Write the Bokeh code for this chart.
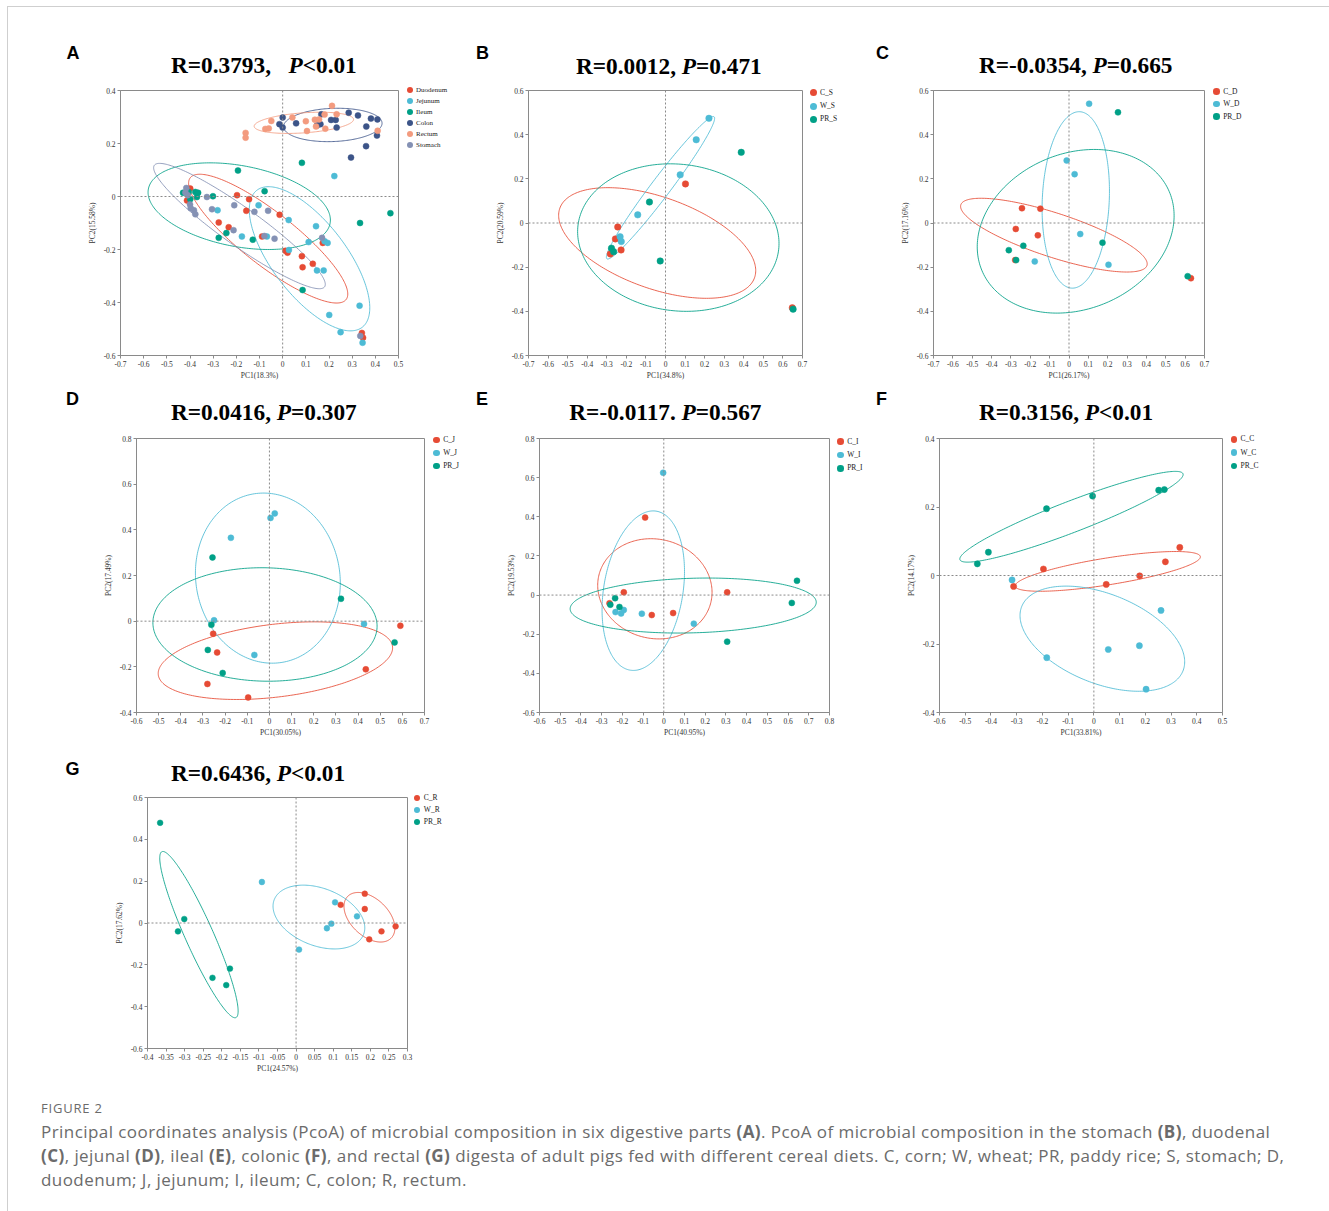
import numpy as np
from bokeh.plotting import figure
from bokeh.models import Span, FixedTicker, Div, Spacer
from bokeh.layouts import column, row
from bokeh.embed import file_html
from bokeh.resources import INLINE

# ---------------- colours ----------------
RED = "#E64B35"; BLUE = "#4DBBD5"; GREEN = "#00A087"
NAVY = "#3C5488"; SALMON = "#F39B7F"; LAV = "#8491B4"

# ---------------- Panel A: six digestive parts ----------------
A_GROUPS = ["Duodenum", "Jejunum", "Ileum", "Colon", "Rectum", "Stomach"]
A_DUO_X = [-0.399, -0.413, -0.197, -0.145, -0.157, -0.013, -0.276, -0.233, -0.089, 0.012, 0.021, 0.083, 0.130, 0.086, 0.173, 0.342, 0.347]
A_DUO_Y = [0.030, -0.015, 0.005, -0.010, -0.054, -0.069, -0.098, -0.116, -0.151, -0.205, -0.212, -0.225, -0.254, -0.267, -0.175, -0.515, -0.533]
A_JEJ_X = [-0.281, -0.104, 0.026, 0.144, -0.176, -0.068, 0.027, 0.112, 0.181, 0.194, 0.148, 0.177, 0.332, 0.201, 0.250, 0.345, 0.223]
A_JEJ_Y = [-0.052, -0.033, -0.089, -0.112, -0.151, -0.151, -0.202, -0.172, -0.169, -0.175, -0.279, -0.279, -0.412, -0.447, -0.512, -0.552, 0.077]
A_ILE_X = [-0.430, -0.406, -0.377, -0.365, -0.370, -0.399, -0.301, -0.078, -0.193, -0.276, -0.243, -0.129, 0.086, 0.334, 0.465, 0.083]
A_ILE_Y = [0.014, 0.017, 0.017, 0.014, -0.002, -0.010, 0.001, 0.020, 0.098, -0.156, -0.138, -0.163, -0.353, -0.100, -0.063, 0.127]
A_COL_X = [0.000, -0.014, 0.000, 0.058, 0.148, 0.163, 0.167, 0.209, 0.229, 0.233, 0.285, 0.325, 0.381, 0.409, 0.361, 0.407, 0.360, 0.295]
A_COL_Y = [0.298, 0.273, 0.260, 0.276, 0.268, 0.273, 0.310, 0.289, 0.289, 0.260, 0.316, 0.306, 0.294, 0.291, 0.264, 0.230, 0.190, 0.147]
A_REC_X = [-0.160, -0.160, -0.075, -0.060, -0.049, 0.042, 0.100, 0.105, 0.139, 0.157, 0.144, 0.184, 0.181, 0.213, 0.233, 0.410]
A_REC_Y = [0.240, 0.222, 0.255, 0.257, 0.285, 0.298, 0.284, 0.247, 0.290, 0.291, 0.264, 0.256, 0.309, 0.342, 0.310, 0.248]
A_STO_X = [-0.416, -0.420, -0.410, -0.400, -0.397, -0.383, -0.377, -0.327, -0.305, -0.209, -0.122, -0.063, -0.212, -0.079, -0.035, 0.170, 0.335]
A_STO_Y = [0.032, 0.015, 0.005, -0.030, -0.044, -0.052, -0.067, -0.002, -0.048, -0.033, -0.058, -0.054, -0.127, -0.149, -0.159, -0.156, -0.526]
# ellipses: (x_min, x_max, y_min, y_max, correlation)
A_ELL = [(-0.406, 0.281, -0.402, 0.084, -0.86),
         (-0.144, 0.376, -0.507, 0.037, -0.68),
         (-0.581, 0.206, -0.200, 0.127, -0.32),
         (0.004, 0.429, 0.207, 0.333, 0.10),
         (-0.123, 0.306, 0.238, 0.318, 0.32),
         (-0.557, 0.184, -0.348, 0.125, -0.93)]

# ---------------- Panel B: stomach ----------------
B_GROUPS = ["C_S", "W_S", "PR_S"]
B_C_X = [-0.244, -0.256, -0.282, -0.227, 0.102, 0.648]
B_C_Y = [-0.018, -0.072, -0.140, -0.122, 0.177, -0.384]
B_W_X = [0.222, 0.157, 0.075, -0.142, -0.232, -0.226]
B_W_Y = [0.474, 0.377, 0.218, 0.037, -0.062, -0.084]
B_PR_X = [0.387, -0.082, -0.027, -0.276, -0.265, 0.652]
B_PR_Y = [0.320, 0.095, -0.172, -0.114, -0.130, -0.390]
B_ELL = [(-0.546, 0.461, -0.341, 0.160, -0.50),
         (-0.302, 0.251, -0.163, 0.482, 0.975),
         (-0.449, 0.580, -0.400, 0.268, -0.08)]

# ---------------- Panel C: duodenum ----------------
C_GROUPS = ["C_D", "W_D", "PR_D"]
C_C_X = [-0.243, -0.148, -0.275, -0.161, -0.278, 0.630]
C_C_Y = [0.067, 0.065, -0.027, -0.056, -0.168, -0.250]
C_W_X = [0.104, -0.012, 0.029, 0.058, 0.204, -0.177]
C_W_Y = [0.540, 0.283, 0.221, -0.050, -0.189, -0.174]
C_PR_X = [0.253, 0.173, -0.236, -0.311, -0.273, 0.613]
C_PR_Y = [0.501, -0.089, -0.103, -0.123, -0.168, -0.241]
C_ELL = [(-0.560, 0.404, -0.222, 0.112, -0.78),
         (-0.139, 0.209, -0.295, 0.504, 0.10),
         (-0.474, 0.543, -0.408, 0.333, 0.19)]

# ---------------- Panel D: jejunum ----------------
D_GROUPS = ["C_J", "W_J", "PR_J"]
D_C_X = [-0.254, -0.236, -0.280, -0.096, 0.435, 0.591]
D_C_Y = [-0.055, -0.137, -0.275, -0.334, -0.211, -0.020]
D_W_X = [0.024, 0.005, -0.174, -0.250, -0.068, 0.427]
D_W_Y = [0.472, 0.452, 0.365, 0.004, -0.148, -0.012]
D_PR_X = [-0.257, 0.323, -0.262, -0.278, -0.211, 0.565]
D_PR_Y = [0.279, 0.098, -0.016, -0.126, -0.227, -0.093]
D_ELL = [(-0.502, 0.556, -0.343, -0.003, 0.33),
         (-0.334, 0.320, -0.184, 0.561, -0.06),
         (-0.526, 0.486, -0.263, 0.234, -0.03)]

# ---------------- Panel E: ileum ----------------
E_GROUPS = ["C_I", "W_I", "PR_I"]
E_C_X = [-0.090, -0.193, -0.262, -0.058, 0.045, 0.306]
E_C_Y = [0.396, 0.014, -0.042, -0.102, -0.092, 0.014]
E_W_X = [-0.003, -0.106, 0.145, -0.233, -0.193, -0.206]
E_W_Y = [0.625, -0.095, -0.146, -0.087, -0.076, -0.094]
E_PR_X = [0.643, 0.618, 0.306, -0.235, -0.258, -0.214]
E_PR_Y = [0.073, -0.040, -0.238, -0.016, -0.049, -0.061]
E_ELL = [(-0.319, 0.233, -0.224, 0.288, -0.07),
         (-0.298, 0.100, -0.385, 0.430, 0.24),
         (-0.452, 0.736, -0.194, 0.087, 0.12)]

# ---------------- Panel F: colon ----------------
F_GROUPS = ["C_C", "W_C", "PR_C"]
F_C_X = [0.334, 0.278, 0.178, 0.048, -0.196, -0.312]
F_C_Y = [0.082, 0.040, -0.001, -0.026, 0.019, -0.032]
F_W_X = [-0.318, 0.261, 0.177, 0.056, -0.183, 0.203]
F_W_Y = [-0.013, -0.102, -0.205, -0.216, -0.240, -0.332]
F_PR_X = [-0.453, -0.410, -0.184, -0.005, 0.252, 0.274]
F_PR_Y = [0.034, 0.068, 0.195, 0.232, 0.249, 0.251]
F_ELL = [(-0.306, 0.414, -0.046, 0.070, 0.73),
         (-0.287, 0.353, -0.338, -0.031, -0.44),
         (-0.521, 0.347, 0.039, 0.304, 0.93)]

# ---------------- Panel G: rectum ----------------
G_GROUPS = ["C_R", "W_R", "PR_R"]
G_C_X = [0.185, 0.120, 0.185, 0.230, 0.268, 0.197]
G_C_Y = [0.140, 0.087, 0.067, -0.040, -0.016, -0.078]
G_W_X = [-0.092, 0.105, 0.164, 0.095, 0.083, 0.008]
G_W_Y = [0.196, 0.099, 0.032, -0.003, -0.025, -0.127]
G_PR_X = [-0.366, -0.301, -0.318, -0.225, -0.188, -0.178]
G_PR_Y = [0.479, 0.019, -0.040, -0.262, -0.297, -0.218]
G_ELL = [(0.129, 0.266, -0.091, 0.146, -0.44),
         (-0.062, 0.185, -0.124, 0.181, -0.34),
         (-0.367, -0.156, -0.453, 0.342, -0.92)]

# ---------------- ticks ----------------
XT_A = [-0.7, -0.6, -0.5, -0.4, -0.3, -0.2, -0.1, 0, 0.1, 0.2, 0.3, 0.4, 0.5]
YT_A = [-0.6, -0.4, -0.2, 0, 0.2, 0.4]
XT_BC = [-0.7, -0.6, -0.5, -0.4, -0.3, -0.2, -0.1, 0, 0.1, 0.2, 0.3, 0.4, 0.5, 0.6, 0.7]
YT_BC = [-0.6, -0.4, -0.2, 0, 0.2, 0.4, 0.6]
XT_D = [-0.6, -0.5, -0.4, -0.3, -0.2, -0.1, 0, 0.1, 0.2, 0.3, 0.4, 0.5, 0.6, 0.7]
YT_D = [-0.4, -0.2, 0, 0.2, 0.4, 0.6, 0.8]
XT_E = [-0.6, -0.5, -0.4, -0.3, -0.2, -0.1, 0, 0.1, 0.2, 0.3, 0.4, 0.5, 0.6, 0.7, 0.8]
YT_E = [-0.6, -0.4, -0.2, 0, 0.2, 0.4, 0.6, 0.8]
XT_F = [-0.6, -0.5, -0.4, -0.3, -0.2, -0.1, 0, 0.1, 0.2, 0.3, 0.4, 0.5]
YT_F = [-0.4, -0.2, 0, 0.2, 0.4]
XT_G = [-0.4, -0.35, -0.3, -0.25, -0.2, -0.15, -0.1, -0.05, 0, 0.05, 0.1, 0.15, 0.2, 0.25, 0.3]
YT_G = [-0.6, -0.4, -0.2, 0, 0.2, 0.4, 0.6]

TITLES = ["R=0.3793,   P<0.01", "R=0.0012, P=0.471", "R=-0.0354, P=0.665",
          "R=0.0416, P=0.307", "R=-0.0117. P=0.567", "R=0.3156, P<0.01", "R=0.6436, P<0.01"]
XLABELS = ["PC1(18.3%)", "PC1(34.8%)", "PC1(26.17%)", "PC1(30.05%)", "PC1(40.95%)", "PC1(33.81%)", "PC1(24.57%)"]
YLABELS = ["PC2(15.58%)", "PC2(20.59%)", "PC2(17.16%)", "PC2(17.49%)", "PC2(19.53%)", "PC2(14.17%)", "PC2(17.62%)"]
LETTERS = ["A", "B", "C", "D", "E", "F", "G"]

CAPTION_HEAD = "FIGURE 2"
CAPTION_LINES = [
    "Principal coordinates analysis (PcoA) of microbial composition in six digestive parts <b>(A)</b>. PcoA of microbial composition in the stomach <b>(B)</b>, duodenal",
    "<b>(C)</b>, jejunal <b>(D)</b>, ileal <b>(E)</b>, colonic <b>(F)</b>, and rectal <b>(G)</b> digesta of adult pigs fed with different cereal diets. C, corn; W, wheat; PR, paddy rice; S, stomach; D,",
    "duodenum; J, jejunum; I, ileum; C, colon; R, rectum.",
]

# ---------------- layout / styling ----------------
SERIF = "Liberation Serif"
GRAY = "#8a8a8a"
TITLE_FS = 23.3
TITLE_ASC = 0.8375 * TITLE_FS
LETTER_FS = 18
LETTER_ASC = 0.8465 * LETTER_FS
X0 = 8          # left of content area (after page border)
MBR = 7         # figure border right of frame

# row: header top, header height, row bottom, min border top, min border bottom
ROWS = {1: (7, 73, 387, 10, 32), 2: (387, 41, 747, 10, 35), 3: (747, 41, 1087, 9, 39)}

# geometry: canvas left, frame left, frame right, next canvas left (absolute px)
PANELS = [
    dict(groups=A_GROUPS, xs=[A_DUO_X, A_JEJ_X, A_ILE_X, A_COL_X, A_REC_X, A_STO_X],
         ys=[A_DUO_Y, A_JEJ_Y, A_ILE_Y, A_COL_Y, A_REC_Y, A_STO_Y], ell=A_ELL,
         colors=[RED, BLUE, GREEN, NAVY, SALMON, LAV], xr=(-0.7, 0.5), yr=(-0.6, 0.4), xt=XT_A, yt=YT_A,
         row=1, geo=(8, 120, 398, 465), title=(171, 73.3), letter=(66.5, 59.3),
         leg=(410, 90, 11, 6.0, 6.0, 7.0), size=6.5),
    dict(groups=B_GROUPS, xs=[B_C_X, B_W_X, B_PR_X], ys=[B_C_Y, B_W_Y, B_PR_Y], ell=B_ELL,
         colors=[RED, BLUE, GREEN], xr=(-0.7, 0.7), yr=(-0.6, 0.6), xt=XT_BC, yt=YT_BC,
         row=1, geo=(465, 528, 802, 860), title=(576, 74), letter=(476, 59.3),
         leg=(813.3, 92.7, 13.3, 7.0, 6.7, 7.5), size=7.0),
    dict(groups=C_GROUPS, xs=[C_C_X, C_W_X, C_PR_X], ys=[C_C_Y, C_W_Y, C_PR_Y], ell=C_ELL,
         colors=[RED, BLUE, GREEN], xr=(-0.7, 0.7), yr=(-0.6, 0.6), xt=XT_BC, yt=YT_BC,
         row=1, geo=(860, 933, 1204, 1329), title=(979, 73.3), letter=(876, 59.3),
         leg=(1216.7, 91.7, 12.5, 6.6, 6.5, 7.5), size=6.5),
    dict(groups=D_GROUPS, xs=[D_C_X, D_W_X, D_PR_X], ys=[D_C_Y, D_W_Y, D_PR_Y], ell=D_ELL,
         colors=[RED, BLUE, GREEN], xr=(-0.6, 0.7), yr=(-0.4, 0.8), xt=XT_D, yt=YT_D,
         row=2, geo=(8, 136, 424, 465), title=(171, 420.7), letter=(66, 405),
         leg=(436.7, 440, 13, 6.6, 6.5, 7.5), size=6.5),
    dict(groups=E_GROUPS, xs=[E_C_X, E_W_X, E_PR_X], ys=[E_C_Y, E_W_Y, E_PR_Y], ell=E_ELL,
         colors=[RED, BLUE, GREEN], xr=(-0.6, 0.8), yr=(-0.6, 0.8), xt=XT_E, yt=YT_E,
         row=2, geo=(465, 539, 829, 870), title=(569.3, 420.7), letter=(476, 405),
         leg=(840.7, 441.7, 13.3, 6.6, 6.5, 7.5), size=6.5),
    dict(groups=F_GROUPS, xs=[F_C_X, F_W_X, F_PR_X], ys=[F_C_Y, F_W_Y, F_PR_Y], ell=F_ELL,
         colors=[RED, BLUE, GREEN], xr=(-0.6, 0.5), yr=(-0.4, 0.4), xt=XT_F, yt=YT_F,
         row=2, geo=(870, 939, 1222, 1329), title=(979, 420.7), letter=(876, 405),
         leg=(1234, 439.3, 13.3, 6.6, 6.5, 7.5), size=6.7),
    dict(groups=G_GROUPS, xs=[G_C_X, G_W_X, G_PR_X], ys=[G_C_Y, G_W_Y, G_PR_Y], ell=G_ELL,
         colors=[RED, BLUE, GREEN], xr=(-0.4, 0.3), yr=(-0.6, 0.6), xt=XT_G, yt=YT_G,
         row=3, geo=(8, 147, 407, 465), title=(171, 781), letter=(65.5, 775),
         leg=(417.3, 797.7, 12.3, 6.3, 6.5, 7.5), size=6.3),
]


def ellipse_curve(params):
    xlo, xhi, ylo, yhi, r = params
    cx, sx = (xlo + xhi) / 2, (xhi - xlo) / 2
    cy, sy = (ylo + yhi) / 2, (yhi - ylo) / 2
    t = np.linspace(0, 2 * np.pi, 241)
    x = cx + sx * np.cos(t)
    y = cy + sy * (r * np.cos(t) + np.sqrt(1 - r * r) * np.sin(t))
    return x, y


def fmt(v):
    return "%g" % v


def header_row(rn):
    hy, hh = ROWS[rn][0], ROWS[rn][1]
    parts = [f'<div style="position:relative;width:1321px;height:{hh}px;">']
    for i, cfg in enumerate(PANELS):
        if cfg["row"] != rn:
            continue
        tx, tb = cfg["title"]
        lx, lb = cfg["letter"]
        t = TITLES[i]
        k = t.index("P")
        ttl = t[:k] + "<i>P</i>" + t[k + 1:].replace("<", "&lt;")
        parts.append(
            f'<div style="position:absolute;left:{lx - X0:.1f}px;top:{lb - LETTER_ASC - hy:.1f}px;'
            f'font-family:\'Liberation Sans\';font-weight:bold;font-size:{LETTER_FS}px;'
            f'line-height:{LETTER_FS}px;color:#000;">{LETTERS[i]}</div>')
        parts.append(
            f'<div style="position:absolute;left:{tx - X0:.1f}px;top:{tb - TITLE_ASC - hy:.1f}px;'
            f'font-family:\'Liberation Serif\';font-weight:bold;font-size:{TITLE_FS}px;'
            f'line-height:{TITLE_FS}px;white-space:pre;color:#000;">{ttl}</div>')
    parts.append('</div>')
    return Div(text="".join(parts), width=1321, height=hh, margin=0)


def legend_div(cfg):
    hy, hh, ybot = ROWS[cfg["row"]][:3]
    top_abs = hy + hh
    ox, fl, fr, nxt = cfg["geo"]
    x0 = fr + MBR
    w = nxt - x0
    lx, ly, pitch, dia, tgap, fs = cfg["leg"]
    parts = [f'<div style="position:relative;width:{w}px;height:{ybot - top_abs}px;">']
    for k, (name, c) in enumerate(zip(cfg["groups"], cfg["colors"])):
        cy = ly + k * pitch - top_abs
        parts.append(
            f'<span style="position:absolute;left:{lx - x0 - dia / 2:.2f}px;top:{cy - dia / 2:.2f}px;'
            f'width:{dia}px;height:{dia}px;border-radius:50%;background:{c};"></span>')
        parts.append(
            f'<span style="position:absolute;left:{lx + tgap - x0:.2f}px;top:{cy - 5:.2f}px;'
            f'height:10px;line-height:10px;font-family:\'Liberation Serif\';font-size:{fs}px;'
            f'color:#222;white-space:nowrap;">{name}</span>')
    parts.append('</div>')
    return Div(text="".join(parts), width=w, height=ybot - top_abs, margin=0)


def make_panel(i, cfg):
    hy, hh, ybot, mbt, mbb = ROWS[cfg["row"]]
    oy = hy + hh
    h = ybot - oy
    ox, fl, fr, nxt = cfg["geo"]
    p = figure(width=fr + MBR - ox, height=h, x_range=cfg["xr"], y_range=cfg["yr"],
               output_backend="svg", toolbar_location=None,
               min_border_left=fl - ox, min_border_right=MBR, min_border_top=mbt, min_border_bottom=mbb)
    p.grid.visible = False
    p.background_fill_color = "white"
    p.border_fill_color = "white"
    p.outline_line_color = GRAY
    p.outline_line_width = 1
    p.xaxis.ticker = FixedTicker(ticks=cfg["xt"])
    p.yaxis.ticker = FixedTicker(ticks=cfg["yt"])
    p.xaxis.major_label_overrides = {v: fmt(v) for v in cfg["xt"]}
    p.yaxis.major_label_overrides = {v: fmt(v) for v in cfg["yt"]}
    p.xaxis.axis_label = XLABELS[i]
    p.yaxis.axis_label = YLABELS[i]
    for ax in (p.xaxis[0], p.yaxis[0]):
        ax.axis_line_color = GRAY
        ax.axis_line_width = 1
        ax.major_tick_line_color = GRAY
        ax.minor_tick_line_color = None
        ax.major_tick_out = 3
        ax.major_tick_in = 0
        ax.major_label_text_font = SERIF
        ax.major_label_text_font_size = "7.5px"
        ax.major_label_text_color = "#333333"
        ax.major_label_standoff = 2
        ax.axis_label_text_font = SERIF
        ax.axis_label_text_font_size = "7.5px"
        ax.axis_label_text_font_style = "normal"
        ax.axis_label_text_color = "#333333"
    p.xaxis.axis_label_standoff = 1
    p.yaxis.axis_label_standoff = 4

    p.add_layout(Span(location=0, dimension="height", line_color=GRAY, line_dash="2 2", line_width=1))
    p.add_layout(Span(location=0, dimension="width", line_color=GRAY, line_dash="2 2", line_width=1))

    for e, c in zip(cfg["ell"], cfg["colors"]):
        ex, ey = ellipse_curve(e)
        p.line(ex, ey, line_color=c, line_width=1, line_alpha=0.85)

    for name, x, y, c in zip(cfg["groups"], cfg["xs"], cfg["ys"], cfg["colors"]):
        p.scatter(x, y, marker="circle", size=cfg["size"] - 0.5, fill_color=c,
                  line_color=c, line_width=0.5)
    return p


figs = [make_panel(i, c) for i, c in enumerate(PANELS)]
legs = [legend_div(c) for c in PANELS]

cap_html = (
    '<div style="position:relative;width:1321px;height:124px;font-family:\'Open Sans\',sans-serif;color:#6b6b6b;">'
    '<div style="position:absolute;left:33px;top:13px;font-size:13px;line-height:16px;letter-spacing:0.8px;">'
    + CAPTION_HEAD + '</div>'
    '<div style="position:absolute;left:33px;top:33px;font-size:17px;line-height:24px;letter-spacing:0.44px;white-space:nowrap;">'
    + "<br>".join(CAPTION_LINES) + '</div></div>'
)
caption = Div(text=cap_html, width=1321, height=124, margin=0)

row1 = row(figs[0], legs[0], figs[1], legs[1], figs[2], legs[2], spacing=0)
row2 = row(figs[3], legs[3], figs[4], legs[4], figs[5], legs[5], spacing=0)
row3 = row(figs[6], legs[6], Spacer(width=864, height=299), spacing=0)
content = column(header_row(1), row1, header_row(2), row2, header_row(3), row3, caption, spacing=0)

BG = {"background-color": "#cfcfcf"}
root = column(
    Spacer(width=1329, height=6),
    row(Spacer(width=7, height=1), Spacer(width=1322, height=1, styles=BG), spacing=0),
    row(Spacer(width=7, height=1204), Spacer(width=1, height=1204, styles=BG), content, spacing=0),
    spacing=0,
)

open("out.html", "w").write(file_html(root, INLINE, title="Figure 2"))
